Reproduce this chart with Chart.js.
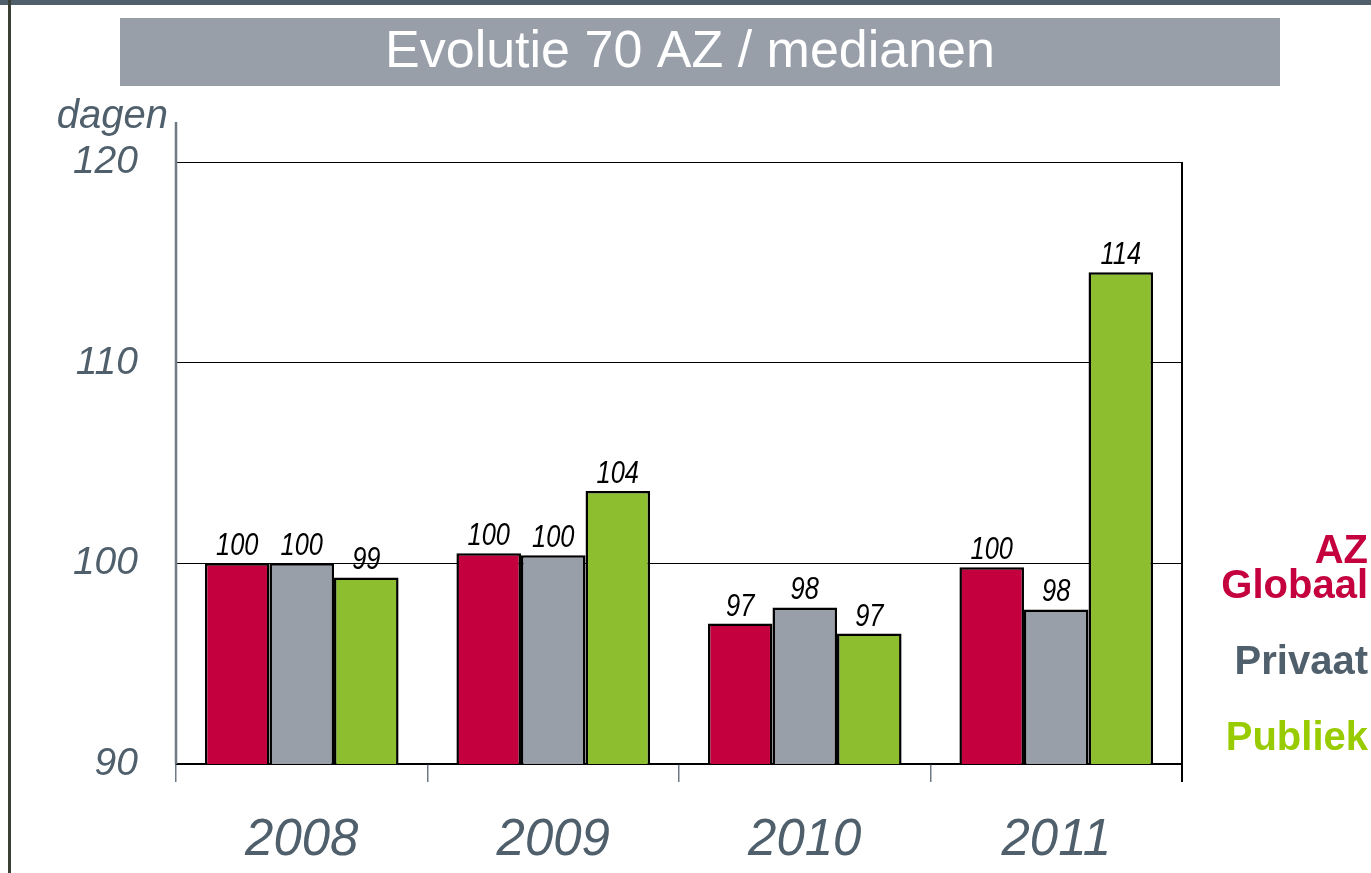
<!DOCTYPE html>
<html>
<head>
<meta charset="utf-8">
<script src="https://cdn.jsdelivr.net/npm/chart.js@4"></script>
<style>
  html, body { margin: 0; padding: 0; background: #fff; }
  #wrap { position: relative; width: 1371px; height: 873px; }
</style>
</head>
<body>
<div id="wrap"><canvas id="medianChart" width="1371" height="873"></canvas></div>
<script>
// Chart data
const years = ['2008', '2009', '2010', '2011'];
const azGlobaal = [100.0, 100.5, 97.0, 99.8];
const privaat = [100.0, 100.4, 97.8, 97.7];
const publiek = [99.3, 103.6, 96.5, 114.5];
// labels as printed on the bars
const azGlobaalLabels = ['100', '100', '97', '100'];
const privaatLabels = ['100', '100', '98', '98'];
const publiekLabels = ['99', '104', '97', '114'];
const yTicks = [90, 100, 110, 120];

const seriesNames = ['AZ Globaal', 'Privaat', 'Publiek'];
const barColors = ['#c4003f', '#989fa9', '#8dbe2f'];
const legendColors = ['#c4003f', '#4f5f6b', '#99cc00'];
const greyText = '#4f5f6b';
const barLabels = [azGlobaalLabels, privaatLabels, publiekLabels];

/**
 * Background decorations: page frame, title bar, axis extension, right border
 */
const decorPlugin = {
    id: 'decor',
    beforeDraw(chart) {
        const ctx = chart.ctx;
        ctx.save();
        // top strip and left frame line
        ctx.fillStyle = '#4f5f6b';
        ctx.fillRect(0, 0, 1371, 5);
        ctx.fillStyle = '#3a4035';
        ctx.fillRect(8, 0, 3, 873);
        // title bar
        ctx.fillStyle = '#989fa9';
        ctx.fillRect(120, 18, 1160, 68);
        ctx.fillStyle = '#ffffff';
        ctx.font = '52px "Liberation Sans", Arial, sans-serif';
        ctx.textAlign = 'center';
        ctx.textBaseline = 'middle';
        ctx.fillText('Evolutie 70 AZ / medianen', 690, 53);
        // unit label
        ctx.fillStyle = greyText;
        ctx.font = 'italic 40px "Liberation Sans", Arial, sans-serif';
        ctx.textAlign = 'right';
        ctx.textBaseline = 'alphabetic';
        ctx.fillText('dagen', 168, 128);
        ctx.restore();
    },
    afterDraw(chart) {
        const ctx = chart.ctx;
        const area = chart.chartArea;
        ctx.save();
        // y axis line extends above the plot
        ctx.strokeStyle = '#6f7a84';
        ctx.lineWidth = 2.5;
        ctx.beginPath();
        ctx.moveTo(area.left, 122);
        ctx.lineTo(area.left, area.bottom);
        ctx.stroke();
        // right border
        ctx.strokeStyle = '#000';
        ctx.lineWidth = 2;
        ctx.beginPath();
        ctx.moveTo(area.right, area.top);
        ctx.lineTo(area.right, area.bottom + 18);
        ctx.stroke();
        // legend on the right
        ctx.textAlign = 'right';
        ctx.textBaseline = 'alphabetic';
        ctx.font = 'bold 40px "Liberation Sans", Arial, sans-serif';
        ctx.fillStyle = legendColors[0];
        ctx.fillText('AZ', 1368, 563);
        ctx.fillText('Globaal', 1368, 598);
        ctx.fillStyle = legendColors[1];
        ctx.fillText(seriesNames[1], 1368, 674);
        ctx.fillStyle = legendColors[2];
        ctx.fillText(seriesNames[2], 1368, 750);
        ctx.restore();
    }
};

/**
 * Value labels above each bar (squeezed horizontally for a condensed look)
 */
const valueLabelPlugin = {
    id: 'valueLabels',
    afterDatasetsDraw(chart) {
        const ctx = chart.ctx;
        const squeeze = 0.82;
        ctx.save();
        ctx.fillStyle = '#000';
        ctx.font = 'italic 31px "Liberation Sans", Arial, sans-serif';
        ctx.textAlign = 'center';
        ctx.textBaseline = 'alphabetic';
        chart.data.datasets.forEach((ds, i) => {
            const meta = chart.getDatasetMeta(i);
            meta.data.forEach((bar, j) => {
                ctx.save();
                ctx.translate(bar.x, bar.y - 8);
                ctx.scale(squeeze, 1);
                ctx.fillText(barLabels[i][j], 0, 0);
                ctx.restore();
            });
        });
        ctx.restore();
    }
};

function initMedianChart() {
    const canvas = document.getElementById('medianChart');
    const ctx = canvas.getContext('2d');

    new Chart(ctx, {
        type: 'bar',
        data: {
            labels: years,
            datasets: [azGlobaal, privaat, publiek].map((values, i) => ({
                label: seriesNames[i],
                data: values,
                backgroundColor: barColors[i],
                borderColor: '#000',
                borderWidth: 2.5,
                borderSkipped: false,
                barPercentage: 1.0,
                categoryPercentage: 0.77
            }))
        },
        options: {
            responsive: false,
            animation: false,
            layout: {
                padding: { left: 0, top: 162, right: 189, bottom: 0 }
            },
            plugins: {
                legend: { display: false },
                title: { display: false },
                tooltip: { enabled: false }
            },
            scales: {
                y: {
                    min: 90,
                    max: 120,
                    afterFit(scale) { scale.width = 176; },
                    afterBuildTicks(scale) {
                        scale.ticks = yTicks.map(v => ({ value: v }));
                    },
                    grid: {
                        color: '#000',
                        lineWidth: 1,
                        drawTicks: false
                    },
                    border: { display: false },
                    ticks: {
                        padding: 38,
                        color: greyText,
                        font: { family: '"Liberation Sans", Arial, sans-serif', size: 39, style: 'italic' }
                    }
                },
                x: {
                    afterFit(scale) { scale.height = 109; },
                    grid: {
                        drawOnChartArea: false,
                        drawTicks: true,
                        tickLength: 18,
                        color: '#6f7a84',
                        lineWidth: 1.5
                    },
                    border: { display: true, color: '#000', width: 1.5 },
                    ticks: {
                        padding: 28,
                        color: greyText,
                        font: { family: '"Liberation Sans", Arial, sans-serif', size: 51, style: 'italic' }
                    }
                }
            }
        },
        plugins: [decorPlugin, valueLabelPlugin]
    });
}

document.addEventListener('DOMContentLoaded', initMedianChart);
</script>
</body>
</html>
